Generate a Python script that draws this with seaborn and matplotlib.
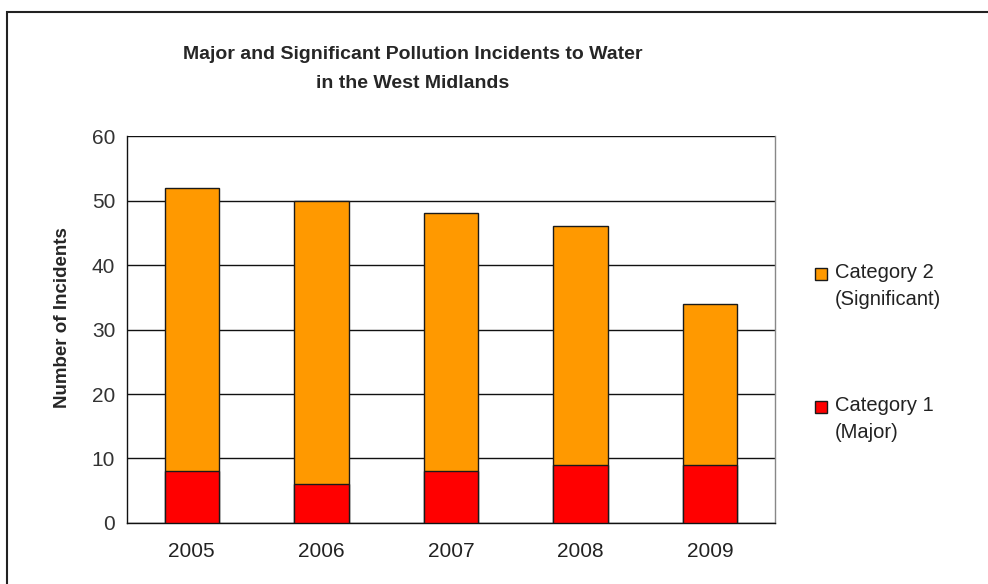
import matplotlib
matplotlib.use("Agg")
import matplotlib.pyplot as plt
import seaborn as sns
import pandas as pd
from matplotlib.patches import Rectangle

# dati
years = ["2005", "2006", "2007", "2008", "2009"]
cat1_major = [8, 6, 8, 9, 9]
cat2_significant = [44, 44, 40, 37, 25]
legend_labels = ["Category 2\n(Significant)", "Category 1\n(Major)"]

df = pd.DataFrame({"year": years, "cat1": cat1_major, "cat2": cat2_significant})
df["total"] = df["cat1"] + df["cat2"]

sns.set_style("white")
plt.rcParams["font.family"] = ["Liberation Sans", "DejaVu Sans"]

fig = plt.figure(figsize=(9.88, 5.84), dpi=100)
ax = fig.add_axes([0.1285, 0.1045, 0.6559, 0.6625])

orange = "#FF9900"
red = "#FF0000"
edge = "#1a1a1a"

# barre impilate: totale (arancione) e poi categoria 1 (rossa) sopra
sns.barplot(x="year", y="total", data=df, color=orange, width=0.42,
            edgecolor=edge, linewidth=1.0, saturation=1, ax=ax, zorder=3)
sns.barplot(x="year", y="cat1", data=df, color=red, width=0.42,
            edgecolor=edge, linewidth=1.0, saturation=1, ax=ax, zorder=3)

ax.set_ylim(0, 60)
ax.set_xlim(-0.5, 4.5)
ax.set_yticks(range(0, 61, 10))
ax.yaxis.grid(True, color="#111111", linewidth=1.0, zorder=0)
ax.set_axisbelow(True)

ax.set_xticks(range(len(years)))
ax.set_xticklabels(years)
ax.set_xticks([i - 0.5 for i in range(len(years) + 1)], minor=True)
ax.tick_params(axis="x", which="major", length=0, labelsize=15, pad=14, colors="#222222")
ax.tick_params(axis="x", which="minor", length=7, width=1, color="#111111", direction="out")
ax.tick_params(axis="y", length=9, width=1, direction="inout", labelsize=15, pad=4,
               colors="#111111", labelcolor="#333333")

for s in ["left", "bottom"]:
    ax.spines[s].set_color("#111111")
    ax.spines[s].set_linewidth(1.0)
ax.spines["right"].set_color("#888888")
ax.spines["right"].set_linewidth(1.0)
ax.spines["top"].set_visible(False)

ax.set_xlabel("")
ax.set_ylabel("Number of Incidents", fontsize=13.5, fontweight="bold")
ax.yaxis.set_label_coords(-0.087, 0.53)

fig.text(0.418, 0.882, "Major and Significant Pollution Incidents to Water\nin the West Midlands",
         ha="center", va="center", fontsize=14, fontweight="bold", linespacing=1.9)

# legenda: quadratino allineato alla prima riga del testo
leg_colors = [orange, red]
leg_y = [274, 407]
for lab, col, yy in zip(legend_labels, leg_colors, leg_y):
    fig.add_artist(Rectangle((815 / 988, 1 - (yy + 6) / 584), 12 / 988, 12 / 584,
                             transform=fig.transFigure, facecolor=col,
                             edgecolor=edge, linewidth=1))
    fig.text(835 / 988, 1 - (yy - 11) / 584, lab, ha="left", va="top",
             fontsize=14.5, color="#222222", linespacing=1.55)

# cornice esterna del grafico
fig.add_artist(Rectangle((7 / 988, -0.1), 1.2, 1 - 12 / 584 + 0.1, transform=fig.transFigure,
                         fill=False, edgecolor="#222222", linewidth=1.5))

fig.savefig("out.png", dpi=100, facecolor="white")
